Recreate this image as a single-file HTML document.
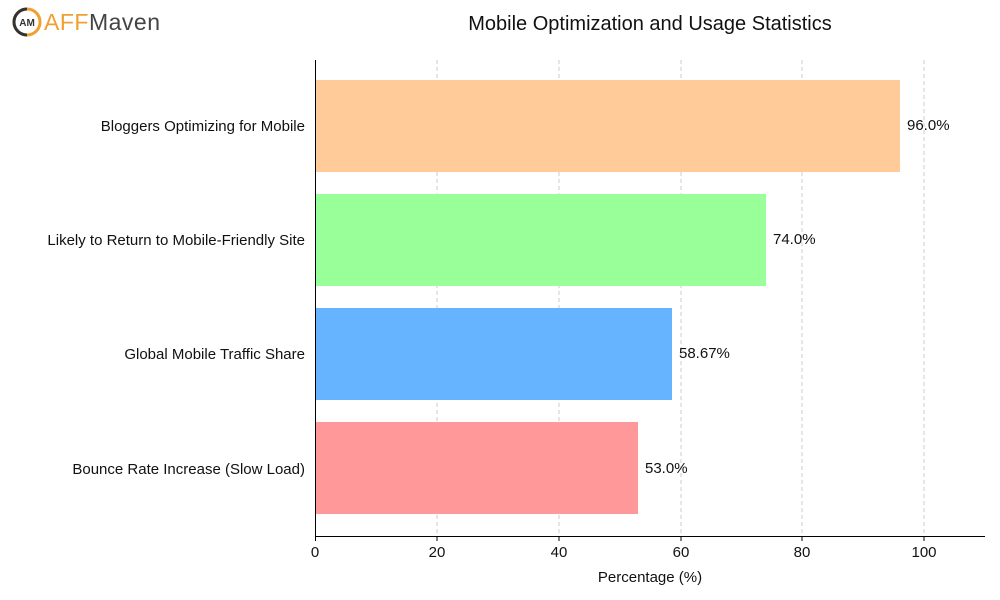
<!DOCTYPE html>
<html><head><meta charset="utf-8"><style>body{margin:0;background:#fff}svg{display:block}text{font-family:"Liberation Sans",sans-serif;fill:#111}</style></head><body>
<svg width="1000" height="600" viewBox="0 0 1000 600">
<g stroke="#c8c8c8" stroke-dasharray="4,3" stroke-width="0.9">
<line x1="437" y1="60" x2="437" y2="536"/><line x1="559" y1="60" x2="559" y2="536"/><line x1="681" y1="60" x2="681" y2="536"/><line x1="802" y1="60" x2="802" y2="536"/><line x1="924" y1="60" x2="924" y2="536"/>
</g>
<rect x="315" y="80" width="585" height="92" fill="#ffcc99"/>
<rect x="315" y="194" width="451" height="92" fill="#99ff99"/>
<rect x="315" y="308" width="357" height="92" fill="#66b3ff"/>
<rect x="315" y="422" width="323" height="92" fill="#ff9999"/>
<g stroke="#000" stroke-width="1"><line x1="315.5" y1="60" x2="315.5" y2="536"/><line x1="315" y1="536.5" x2="985" y2="536.5"/>
<line x1="315.5" y1="536" x2="315.5" y2="541"/><line x1="437" y1="536" x2="437" y2="541"/><line x1="559" y1="536" x2="559" y2="541"/><line x1="681" y1="536" x2="681" y2="541"/><line x1="802" y1="536" x2="802" y2="541"/><line x1="924" y1="536" x2="924" y2="541"/></g>
<g font-size="15" text-anchor="middle"><text x="315" y="557">0</text><text x="437" y="557">20</text><text x="559" y="557">40</text><text x="681" y="557">60</text><text x="802" y="557">80</text><text x="924" y="557">100</text>
<text x="650" y="582">Percentage (%)</text></g>
<g font-size="15" text-anchor="end"><text x="305" y="131">Bloggers Optimizing for Mobile</text><text x="305" y="245">Likely to Return to Mobile-Friendly Site</text><text x="305" y="359">Global Mobile Traffic Share</text><text x="305" y="474">Bounce Rate Increase (Slow Load)</text></g>
<g font-size="15"><text x="907" y="130">96.0%</text><text x="773" y="244">74.0%</text><text x="679" y="358">58.67%</text><text x="645" y="473">53.0%</text></g>
<text x="650" y="30" font-size="20" text-anchor="middle">Mobile Optimization and Usage Statistics</text>
<circle cx="27" cy="22" r="13" fill="none" stroke="#f0a030" stroke-width="3"/>
<path d="M27 9 A13 13 0 0 0 27 35" fill="none" stroke="#333" stroke-width="3"/>
<text x="27" y="26" font-size="10" font-weight="bold" text-anchor="middle" style="fill:#333">AM</text>
<text x="44" y="30" font-size="23" style="fill:#f0a030;letter-spacing:0.5px">AFF<tspan style="fill:#444">Maven</tspan></text>
</svg></body></html>
